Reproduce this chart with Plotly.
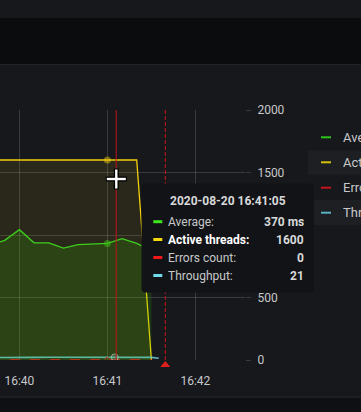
import plotly.graph_objects as go

# ---------------- data ----------------
times = ["2020-08-20 16:39:40", "2020-08-20 16:39:50", "2020-08-20 16:40:00",
         "2020-08-20 16:40:10", "2020-08-20 16:40:20", "2020-08-20 16:40:30",
         "2020-08-20 16:40:40", "2020-08-20 16:40:50", "2020-08-20 16:41:00",
         "2020-08-20 16:41:10", "2020-08-20 16:41:20", "2020-08-20 16:41:30"]
average_ms = [368, 383, 417, 375, 375, 358, 369, 371, 373, 388, 373, 350]
active_threads = [1600, 1600, 1600, 1600, 1600, 1600, 1600, 1600, 1600, 1600, 1600, 0]
errors_count = [0, 0, 0, 0, 0, 0, 0, 0, 0, 0, 0, 0]
throughput_times = times + ["2020-08-20 16:41:35"]
throughput = [20, 22, 23, 21, 22, 22, 21, 22, 21, 22, 21, 21, 14]

series_names = ["Average", "Active threads", "Errors count", "Throughput"]
tooltip_time = "2020-08-20 16:41:05"
tooltip_values = ["370 ms", "1600", "0", "21"]
hover_time = "2020-08-20 16:41:00"
cursor_time = "2020-08-20 16:41:06"
annotation_time = "2020-08-20 16:41:39.5"

x_tickvals = ["2020-08-20 16:40:00", "2020-08-20 16:41:00", "2020-08-20 16:42:00"]
x_ticktext = ["16:40", "16:41", "16:42"]
y_tickvals = [0, 500, 1000, 1500, 2000]
x_range = ["2020-08-20 16:39:46.8", "2020-08-20 16:42:33.8"]

# ---------------- style ----------------
W, H = 361, 412
L, R, T, B = 0, 116, 110, 52
PW, PH = W - L - R, H - T - B

PANEL = "#17181c"
GRID = "rgba(255,255,255,0.15)"
TXT = "#c7c8ca"
C_GREEN = "#3ccf1c"
C_YELLOW = "#f2d00c"
C_RED = "#e01a1a"
C_CYAN = "#6cd0e0"
FONT = "Roboto"


def px(x):
    return (x - L) / PW


def py(y):
    return (H - B - y) / PH


fig = go.Figure()

# fills first
fig.add_trace(go.Scatter(x=times, y=average_ms, yaxis="y2", mode="lines",
                         line=dict(width=0), fill="tozeroy",
                         fillcolor="rgba(60,200,0,0.17)", hoverinfo="skip",
                         showlegend=False))
fig.add_trace(go.Scatter(x=times, y=active_threads, mode="lines",
                         line=dict(width=0), fill="tozeroy",
                         fillcolor="rgba(242,214,12,0.09)", hoverinfo="skip",
                         showlegend=False))
# lines
fig.add_trace(go.Scatter(x=times, y=average_ms, yaxis="y2", mode="lines",
                         name=series_names[0], line=dict(color=C_GREEN, width=1.3),
                         showlegend=False))
fig.add_trace(go.Scatter(x=times, y=active_threads, mode="lines",
                         name=series_names[1], line=dict(color=C_YELLOW, width=1.3),
                         showlegend=False))
fig.add_trace(go.Scatter(x=times, y=errors_count, mode="lines",
                         name=series_names[2],
                         line=dict(color="#c8161c", width=2, dash="10px,10px"),
                         showlegend=False))
fig.add_trace(go.Scatter(x=throughput_times, y=throughput, mode="lines",
                         name=series_names[3], line=dict(color=C_CYAN, width=1.6),
                         opacity=0.85, showlegend=False))

# hover points
hi = times.index(hover_time)
fig.add_trace(go.Scatter(x=[hover_time], y=[active_threads[hi]], mode="markers",
                         marker=dict(size=7, color="rgba(242,204,12,0.45)"),
                         showlegend=False, hoverinfo="skip"))
fig.add_trace(go.Scatter(x=[hover_time], y=[average_ms[hi]], yaxis="y2", mode="markers",
                         marker=dict(size=7, color="rgba(60,200,20,0.5)"),
                         showlegend=False, hoverinfo="skip"))
fig.add_trace(go.Scatter(x=[hover_time], y=[errors_count[hi]], mode="markers",
                         marker=dict(size=5, color="rgba(0,0,0,0)",
                                     line=dict(color="#c8161c", width=1)),
                         showlegend=False, hoverinfo="skip"))
fig.add_trace(go.Scatter(x=[tooltip_time], y=[int(tooltip_values[3])], mode="markers",
                         marker=dict(size=7, color="rgba(120,160,170,0.35)",
                                     line=dict(color="rgba(190,210,220,0.7)", width=1)),
                         showlegend=False, hoverinfo="skip"))

shapes = []
# background bands
shapes.append(dict(type="rect", xref="paper", yref="paper", x0=px(-5), x1=px(W + 5),
                   y0=py(18), y1=py(64), fillcolor="#0b0c0e", line_width=0, layer="below"))
shapes.append(dict(type="line", xref="paper", yref="paper", x0=px(-5), x1=px(W + 5),
                   y0=py(64.5), y1=py(64.5), line=dict(color="#222327", width=1), layer="below"))
shapes.append(dict(type="rect", xref="paper", yref="paper", x0=px(-5), x1=px(W + 5),
                   y0=py(397.5), y1=py(H + 5), fillcolor="#0f1013", line_width=0, layer="below"))
shapes.append(dict(type="line", xref="paper", yref="paper", x0=px(-5), x1=px(W + 5),
                   y0=py(397), y1=py(397), line=dict(color="#26272b", width=1), layer="below"))
# legend stripes
for y0, y1 in [(150.5, 174.5), (200, 225)]:
    shapes.append(dict(type="rect", xref="paper", yref="paper", x0=px(308), x1=px(W + 5),
                       y0=py(y1), y1=py(y0), fillcolor="#1d1f23", line_width=0, layer="below"))
# crosshair and annotation lines
shapes.append(dict(type="line", xref="x", yref="paper", x0=cursor_time, x1=cursor_time,
                   y0=0, y1=1, line=dict(color="#c0141a", width=1), layer="above"))
shapes.append(dict(type="line", xref="x", yref="paper", x0=annotation_time, x1=annotation_time,
                   y0=0, y1=1, line=dict(color="#c8161c", width=1, dash="4px,2px"),
                   layer="above"))
# annotation triangle
shapes.append(dict(type="path", xref="paper", yref="paper",
                   path=f"M {px(165.3)} {py(361)} L {px(170.3)} {py(367)} L {px(160.3)} {py(367)} Z",
                   fillcolor="#e01e1e", line_width=0, layer="above"))

# tooltip box (rounded)
bx0, by0, bx1, by1, r = 141.5, 183.5, 314, 292.5, 4
path = (f"M {px(bx0 + r)} {py(by0)} L {px(bx1 - r)} {py(by0)} "
        f"Q {px(bx1)} {py(by0)} {px(bx1)} {py(by0 + r)} "
        f"L {px(bx1)} {py(by1 - r)} Q {px(bx1)} {py(by1)} {px(bx1 - r)} {py(by1)} "
        f"L {px(bx0 + r)} {py(by1)} Q {px(bx0)} {py(by1)} {px(bx0)} {py(by1 - r)} "
        f"L {px(bx0)} {py(by0 + r)} Q {px(bx0)} {py(by0)} {px(bx0 + r)} {py(by0)} Z")
shapes.append(dict(type="path", xref="paper", yref="paper", path=path,
                   fillcolor="#121316", line_width=0, layer="above"))

annotations = []
annotations.append(dict(xref="paper", yref="paper", x=px(228), y=py(200.7),
                        text="<b>" + tooltip_time + "</b>", showarrow=False,
                        xanchor="center", yanchor="middle",
                        font=dict(family=FONT, size=12, color="#d8d9da")))
tt_colors = ["#3de61c", "#f5d90a", "#f01818", "#72dbeb"]
row_y = [221.7, 239.5, 257.5, 275.5]
for i, name in enumerate(series_names):
    yy = row_y[i]
    shapes.append(dict(type="line", xref="paper", yref="paper", x0=px(153.3), x1=px(162.3),
                       y0=py(yy), y1=py(yy), line=dict(color=tt_colors[i], width=3),
                       layer="above"))
    bold = (i == 1)
    lbl = name + ":"
    annotations.append(dict(xref="paper", yref="paper", x=px(165.5), y=py(yy),
                            text=("<b>" + lbl + "</b>") if bold else lbl,
                            showarrow=False, xanchor="left", yanchor="middle",
                            font=dict(family=FONT, size=12,
                                      color="#ffffff" if bold else "#c7c8ca")))
    annotations.append(dict(xref="paper", yref="paper", x=px(306), y=py(yy),
                            text="<b>" + tooltip_values[i] + "</b>",
                            showarrow=False, xanchor="right", yanchor="middle",
                            font=dict(family=FONT, size=12, color="#d8d9da")))

# legend (right, cut by window edge)
lg_colors = ["#2dc21a", "#d4c20c", "#c8141c", "#58b2c2"]
lg_y = [137.3, 162.3, 187.7, 212.7]
for i, name in enumerate(series_names):
    shapes.append(dict(type="line", xref="paper", yref="paper", x0=px(321), x1=px(331),
                       y0=py(lg_y[i]), y1=py(lg_y[i]), line=dict(color=lg_colors[i], width=2),
                       layer="below"))
    annotations.append(dict(xref="paper", yref="paper", x=px(341), y=py(lg_y[i]),
                            text=name, showarrow=False, xanchor="left", yanchor="middle",
                            font=dict(family=FONT, size=13, color="#c7c8ca")))

# mouse cursor cross
cx, cy = 116.3, 179
for col, w, a in [("#000000", 5, 10.5), ("#ffffff", 2.4, 9.5)]:
    shapes.append(dict(type="line", xref="paper", yref="paper", x0=px(cx - a), x1=px(cx + a),
                       y0=py(cy), y1=py(cy), line=dict(color=col, width=w), layer="above"))
    shapes.append(dict(type="line", xref="paper", yref="paper", x0=px(cx), x1=px(cx),
                       y0=py(cy - a), y1=py(cy + a), line=dict(color=col, width=w), layer="above"))

fig.update_layout(
    width=W, height=H, autosize=False,
    margin=dict(l=L, r=R, t=T, b=B, pad=0),
    paper_bgcolor=PANEL, plot_bgcolor="rgba(0,0,0,0)",
    font=dict(family=FONT, size=12, color=TXT),
    showlegend=False,
    xaxis=dict(type="date", range=x_range, tickvals=x_tickvals, ticktext=x_ticktext,
               showgrid=True, gridcolor=GRID, gridwidth=1, zeroline=False,
               showline=False, ticks="", ticklabelstandoff=12,
               tickfont=dict(family=FONT, size=12, color=TXT), automargin=False,
               fixedrange=True),
    yaxis=dict(range=[0, 2000], tickvals=y_tickvals, side="right",
               showgrid=True, gridcolor=GRID, gridwidth=1, zeroline=False,
               showline=False, ticks="outside", ticklen=5, tickcolor=GRID,
               ticklabelstandoff=4,
               tickfont=dict(family=FONT, size=12, color=TXT), automargin=False,
               fixedrange=True),
    yaxis2=dict(range=[0, 800], overlaying="y", side="left", showgrid=False,
                zeroline=False, showticklabels=False, showline=False, automargin=False,
                fixedrange=True),
    shapes=shapes,
    annotations=annotations,
)

fig.write_html("out.html", config={"displayModeBar": False},
               post_script="document.body.style.margin='0';document.body.style.overflow='hidden';")
